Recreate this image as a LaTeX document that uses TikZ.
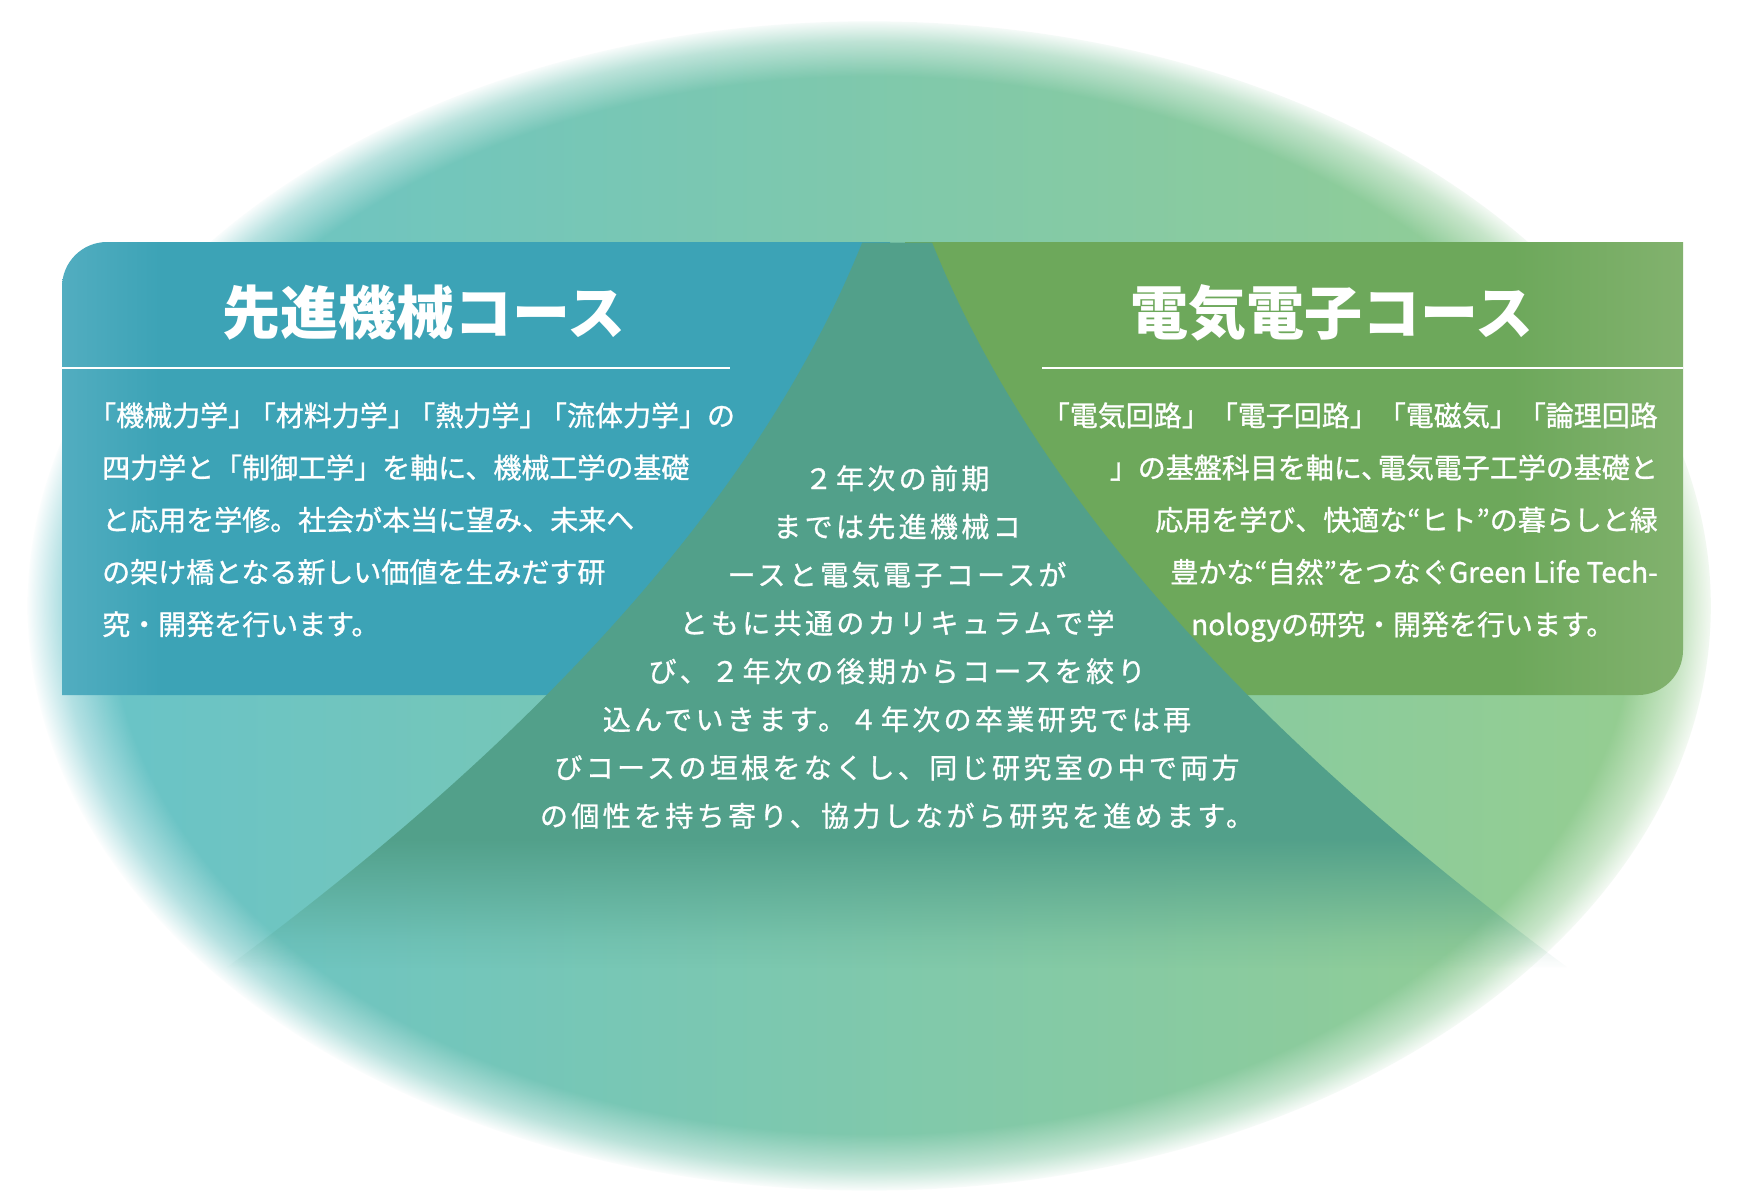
\documentclass[tikz,border=0pt]{standalone}
\usepackage{fontspec}
\usetikzlibrary{fadings}

\newfontfamily\jp{Noto Sans CJK JP}
\newfontfamily\jpbody{Noto Sans CJK JP}[FakeBold=1]
\newfontfamily\jpwide{Noto Sans CJK JP}[LetterSpace=12, FakeBold=1]

\definecolor{ovalL}{HTML}{67C3CA}
\definecolor{ovalM}{HTML}{7CC8B6}
\definecolor{ovalR}{HTML}{97CE8E}
\definecolor{mechC}{HTML}{3CA3B6}
\definecolor{mechL}{HTML}{52ADC0}
\definecolor{elecC}{HTML}{6DA85B}
\definecolor{elecL}{HTML}{82B26E}
\definecolor{triC}{HTML}{52A08A}

\newcommand\jsq{\kern-.3em}

% soft rim of the oval, fading at the bottom of the wedge
\pgfdeclareradialshading{softrim}{\pgfpoint{0bp}{0bp}}{color(0bp)=(white); color(22.5bp)=(white); color(24bp)=(black!50); color(25bp)=(black); color(50bp)=(black)}
\pgfdeclarefading{softoval}{\pgfuseshading{softrim}}
\pgfdeclareverticalshading{tridrop}{100bp}{color(0bp)=(black); color(25bp)=(black); color(27bp)=(black!85); color(34bp)=(white); color(100bp)=(white)}
\pgfdeclarefading{trifade}{\pgfuseshading{tridrop}}

% panel shadings
\pgfdeclarehorizontalshading{mechshade}{100bp}{color(0bp)=(mechL); color(25bp)=(mechL); color(31bp)=(mechC); color(100bp)=(mechC)}
\pgfdeclarehorizontalshading{elecshade}{100bp}{color(0bp)=(elecC); color(64bp)=(elecC); color(75bp)=(elecL); color(100bp)=(elecL)}

\begin{document}
\begin{tikzpicture}[x=1pt, y=-1pt,
    ttl/.style={font=\jp\bfseries\fontsize{58}{58}\selectfont, text=white, inner sep=0pt},
    body/.style={font=\jpbody\fontsize{28}{28}\selectfont, text=white, inner sep=0pt},
    common/.style={font=\jpwide\fontsize{28}{28}\selectfont, text=white, inner sep=0pt},
    sepline/.style={draw=white, line width=2pt}]

    \useasboundingbox (0,0) rectangle (1740,1200);
    \fill[white] (0,0) rectangle (1740,1200);

    % blurred oval
    \shade[left color=ovalL, middle color=ovalM, right color=ovalR, path fading=softoval]
        (872,605) ellipse [x radius=843pt, y radius=585pt];

    % course panels
    \shade[shading=mechshade] (62,695) -- (62,287) arc[start angle=180, end angle=90, radius=45pt] -- (890,242) -- (890,695) -- cycle;
    \shade[shading=elecshade] (905,242) -- (1683,242) -- (1683,650) arc[start angle=0, end angle=-90, radius=45pt] -- (905,695) -- cycle;

    % shared wedge
    \fill[triC, path fading=trifade] (862,242) -- (932,242) .. controls (1029,484) and (1240,725) .. (1567,967)
        -- (227,967) .. controls (554,725) and (765,484) .. (862,242) -- cycle;

    \draw[sepline] (62,368) -- (730,368);
    \draw[sepline] (1042,368) -- (1683,368);

    \node[ttl, anchor=base] (mechttl) at (424,334) {先進機械コース};
    \node[ttl, anchor=base] (electtl) at (1332,334) {電気電子コース};

    \foreach \linetxt [count=\i] in {{\kern-.5em「機械力学」\jsq「材料力学」\jsq「熱力学」\jsq「流体力学」の},
        {四力学と「制御工学」を軸に、機械工学の基礎}, {と応用を学修。社会が本当に望み、未来へ},
        {の架け橋となる新しい価値を生みだす研}, {究・開発を行います。}}
        \node[body, anchor=base west] (mech\i) at (102, {426+52.2*(\i-1)}) {\linetxt};

    \foreach \linetxt [count=\i] in {{「電気回路」「電子回路」「電磁気」「論理回路},
        {」の基盤科目を軸に、\kern-.4em電気電子工学の基礎と}, {応用を学び、快適な“ヒト”の暮らしと緑},
        {豊かな“自然”をつなぐGreen Life Tech-}}
        \node[body, anchor=base east] (elec\i) at (1658, {426+52.2*(\i-1)}) {\linetxt};
    \node[body, anchor=base west] (elec5) at (1191,635) {nologyの研究・開発を行います。};

    \foreach \linetxt [count=\i] in {{２年次の前期}, {までは先進機械コ}, {ースと電気電子コースが},
        {ともに共通のカリキュラムで学}, {び、２年次の後期からコースを絞り},
        {込んでいきます。４年次の卒業研究では再}, {びコースの垣根をなくし、同じ研究室の中で両方},
        {の個性を持ち寄り、協力しながら研究を進めます。}}
        \node[common, anchor=base] (both\i) at (897, {489+48.2*(\i-1)}) {\linetxt};
\end{tikzpicture}
\end{document}
